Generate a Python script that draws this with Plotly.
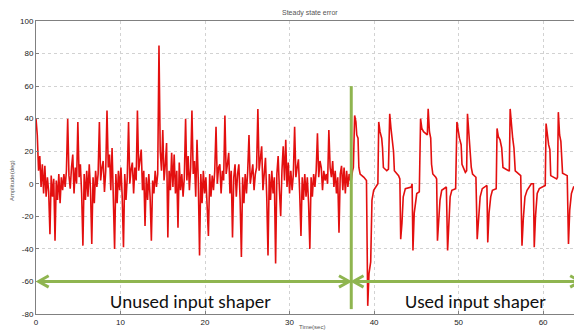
import plotly.graph_objects as go

# ---------------- data ----------------
# Segment 1 (no input shaper): samples every DT1 seconds starting at t=0
DT1 = 0.15
seg1_values = [
    40, 30, 8, 17, -2, 12, -6, 11, -8, 4,
    -5, -31, 5, -8, 3, -35, 2, -10, 6, -12,
    4, -4, 6, -2, 8, 40, 5, -3, 10, 18,
    -6, 10, 0, 38, 4, 12, -6, -38, 6, -10,
    8, -8, 12, -4, -37, 4, -12, 8, -2, 6,
    38, 2, 10, 14, -5, 8, 45, 10, 18, -4,
    22, -6, -40, 6, -12, 8, -4, 10, -8, -39,
    6, -10, 4, 38, 0, 9, 13, -6, 10, 2,
    45, 8, 15, 21, -4, 8, -26, 4, -10, 6,
    -8, -35, 2, -6, 8, -2, 6, 85, 20, 8,
    33, 2, 12, 25, -33, 8, -4, 19, -2, 18,
    -6, 8, -27, 13, -4, 6, -8, 4, 40, 2,
    17, -4, 10, 45, 6, 14, -8, 27, 2, -44,
    6, -12, 8, -6, 4, -10, -32, 6, -8, 5,
    -4, 8, 35, 0, 10, 12, -6, 8, 2, 42,
    6, 12, 19, -6, 8, -33, 4, 12, -8, 6,
    12, -10, -45, 4, -12, 6, -6, 8, 30, 0,
    8, 12, -4, 6, 10, 46, 8, 14, 23, -4,
    6, 16, -8, -44, 6, -10, 8, -6, 4, -49,
    6, 17, -4, -20, 8, 23, 2, 27, -2, 13,
    -6, 8, -4, 6, 35, 4, 10, 15, -6, -32,
    4, -10, 6, -8, 4, -12, -40, 4, -8, 6,
    -2, 8, 31, 4, 14, 10, -4, 8, 2, 6,
    0, 33, 10, 4, 14, -2, 8, -6, 4, -30,
    6, 11, -4, 10, -6, 8, -2, 6, 2,
]

# Segment 2 (input shaper used): read points (time, amplitude)
seg2_time = [
    37.3, 37.45, 37.55, 37.7, 37.85, 37.95, 38.1, 38.2, 38.35, 38.8,
    39.1, 39.25, 39.4, 39.6, 39.75, 39.95, 40.3, 40.45, 40.55, 40.7,
    40.9, 41.0, 41.1, 41.5, 41.7, 41.85, 42.0, 42.15, 42.3, 42.4,
    42.9, 43.05, 43.15, 43.3, 43.45, 43.7, 44.4, 44.5, 44.6, 44.75,
    44.9, 45.05, 45.35, 45.5, 45.65, 45.85, 46.3, 46.4, 46.55, 46.7,
    46.8, 46.95, 47.3, 47.4, 47.5, 47.65, 47.8, 48.0, 48.55, 48.7,
    48.85, 49.0, 49.2, 49.65, 49.8, 49.95, 50.1, 50.3, 50.4, 50.8,
    50.95, 51.05, 51.2, 51.35, 51.5, 51.65, 52.05, 52.2, 52.35, 52.55,
    52.8, 53.35, 53.45, 53.6, 53.8, 54.0, 54.45, 54.55, 54.7, 54.9,
    55.1, 55.25, 55.9, 56.0, 56.1, 56.25, 56.4, 56.55, 56.7, 57.35,
    57.5, 57.65, 57.85, 58.1, 58.6, 58.85, 58.95, 59.1, 59.3, 59.55,
    60.25, 60.35, 60.5, 60.65, 60.8, 60.9, 61.6, 61.7, 61.8, 61.95,
    62.1, 62.3, 62.85, 63.0, 63.15, 63.35, 63.6, 64.6,
]
seg2_values = [
    2, 8, 10, 42, 38, 30, 28, 10, 6, 4,
    2, -75, -55, -48, -10, -4, -1, 0, 38, 32,
    28, 22, 10, 8, 9, 43, 34, 28, 20, 8,
    5, 3, -34, -24, -8, -3, -2, 0, -41, -18,
    -12, -6, -5, 40, 34, 32, 30, 46, 32, 28,
    12, 6, 4, 3, -35, -25, -10, -4, -2, -41,
    -20, -8, -4, -3, 38, 31, 28, 24, 12, 7,
    8, 43, 32, 26, 10, 6, 4, -34, -22, -8,
    -3, -1, -36, -18, -8, -4, -3, 34, 29, 27,
    22, 10, 8, 8, 46, 34, 28, 22, 8, 5,
    -38, -22, -8, -4, 0, 0, -39, -20, -6, -3,
    -1, 37, 28, 24, 21, 5, 3, 4, 44, 30,
    26, 6.5, 5, -37, -16, -6, -2, 0,
]

x_ticks = [0, 10, 20, 30, 40, 50, 60]
y_ticks = [100, 80, 60, 40, 20, 0, -20, -40, -60, -80]

title_text = "Steady state error"
x_title = "Time(sec)"
y_title = "Amplitude(deg)"
label_unused = "Unused input shaper"
label_used = "Used input shaper"

# annotation positions (data units)
divider_x = 37.3
divider_top = 60
divider_bottom = -77
arrow_y = -60
arrow_left = 0.3
arrow_right = 64.4
label_y = -72.5

# ---------------- figure ----------------
# The page body has an 8px margin, so the figure is drawn 8px smaller and
# all pixel positions are measured relative to that offset.
OFF = 8
W, H = 582 - OFF, 330 - OFF
plot_left, plot_top, plot_bottom = 36 - OFF, 21 - OFF, 314 - OFF
plot_w = W - plot_left
plot_h = plot_bottom - plot_top

seg1_time = [i * DT1 for i in range(len(seg1_values))]
t_all = seg1_time + seg2_time
v_all = seg1_values + seg2_values

GREEN = "#8fb550"
RED = "#e30f0f"

fig = go.Figure()
fig.add_trace(go.Scatter(
    x=t_all, y=v_all, mode="lines",
    line=dict(color=RED, width=1.6),
    hoverinfo="skip", showlegend=False,
))

shapes = []
shapes.append(dict(type="line", xref="x", yref="y",
                   x0=divider_x, x1=divider_x, y0=divider_top, y1=divider_bottom,
                   line=dict(color=GREEN, width=3)))
gap = 0.25
for xa, xb in [(arrow_left, divider_x - gap), (divider_x + gap, arrow_right)]:
    shapes.append(dict(type="line", xref="x", yref="y",
                       x0=xa, x1=xb, y0=arrow_y, y1=arrow_y,
                       line=dict(color=GREEN, width=3)))
hx = 1.2
hy = 3.5
def chevron(tip, direction):
    bx = tip - direction * hx
    return "M {bx},{y1} L {tx},{y} L {bx},{y2}".format(
        bx=bx, tx=tip, y=arrow_y, y1=arrow_y + hy, y2=arrow_y - hy)
for tip, d in [(arrow_left, -1), (divider_x - gap, 1),
               (divider_x + gap, -1), (arrow_right, 1)]:
    shapes.append(dict(type="path", xref="x", yref="y", path=chevron(tip, d),
                       line=dict(color=GREEN, width=3)))

def py(pix):  # reference pixel y -> paper fraction
    return (plot_bottom - (pix - OFF)) / plot_h
def px(pix):  # reference pixel x -> paper fraction
    return ((pix - OFF) - plot_left) / plot_w

small = dict(family="Liberation Sans, Arial", size=7, color="#555555")
annotations = [
    dict(text=title_text, x=px(310), y=py(13), xref="paper", yref="paper",
         showarrow=False, yanchor="middle", font=small),
    dict(text=y_title, x=px(12), y=py(180), xref="paper", yref="paper",
         showarrow=False, textangle=-90, xanchor="center", yanchor="middle",
         font=dict(small, size=6)),
    dict(text=x_title, x=px(312), y=py(322), xref="paper", yref="paper",
         showarrow=False, yanchor="top", font=dict(small, size=6)),
    dict(text=label_unused, x=18.3, y=label_y, xref="x", yref="y", showarrow=False,
         font=dict(family="Carlito, Lato, Open Sans", size=19, color="#111111")),
    dict(text=label_used, x=52.0, y=label_y, xref="x", yref="y", showarrow=False,
         font=dict(family="Carlito, Lato, Open Sans", size=19, color="#111111")),
]

axis_common = dict(
    showline=True, mirror=True, linecolor="#808080", linewidth=1,
    showgrid=True, gridcolor="#d2d2d2", griddash="dot", gridwidth=1,
    ticks="inside", ticklen=3, tickcolor="#808080",
    zeroline=False, automargin=False,
    tickfont=dict(family="Liberation Sans, Arial", size=8, color="#222222"),
)

fig.update_layout(
    width=W, height=H,
    margin=dict(l=plot_left, r=0, t=plot_top, b=H - plot_bottom),
    paper_bgcolor="white", plot_bgcolor="white",
    xaxis=dict(range=[0, 64.6], tickvals=x_ticks, ticktext=[str(v) for v in x_ticks],
               **axis_common),
    yaxis=dict(range=[-80, 100], tickvals=y_ticks, ticktext=[str(v) for v in y_ticks],
               **axis_common),
    shapes=shapes,
    annotations=annotations,
    showlegend=False,
)

fig.write_html("out.html")
